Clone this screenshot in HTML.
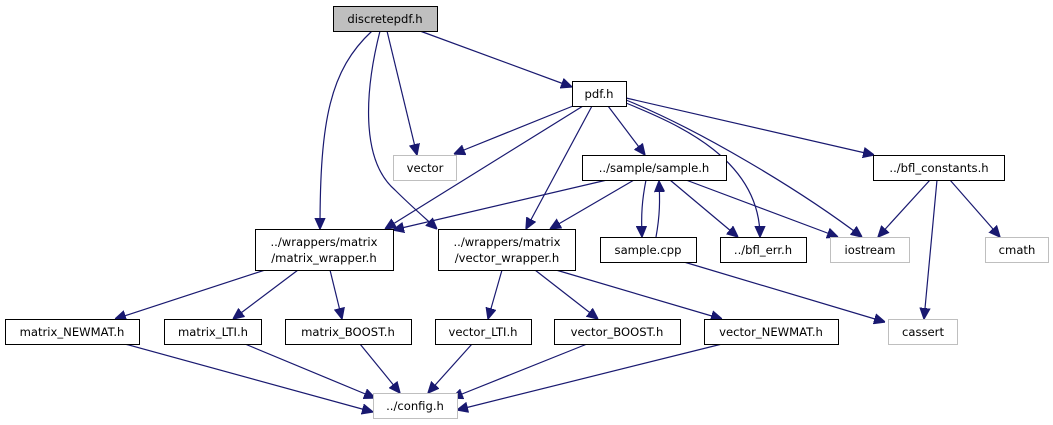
<!DOCTYPE html>
<html><head><meta charset="utf-8"><style>
html,body{margin:0;padding:0;background:#fff;}
svg{display:block}
text{font-family:"DejaVu Sans","Liberation Sans",sans-serif;font-size:11.6px;text-anchor:middle;fill:#000}
.n{fill:#fff;stroke:#000;stroke-width:1}
.g{fill:#fff;stroke:#bfbfbf;stroke-width:1}
path{fill:none;stroke:#191970;stroke-width:1.2}
</style></head><body>
<svg width="1053" height="425" viewBox="0 0 1053 425" xmlns="http://www.w3.org/2000/svg">
<defs><marker id="a" viewBox="0 0 10 10" refX="10" refY="5" markerWidth="11" markerHeight="11" markerUnits="userSpaceOnUse" orient="auto"><path d="M0,0.5 L10,5 L0,9.5 z" style="fill:#191970;stroke:#191970"/></marker></defs>
<g marker-end="url(#a)">
<path d="M372,31 C330,70 320,120 320,229"/>
<path d="M380,31 C365,90 360,160 395,190 C410,205 425,218 437,229"/>
<path d="M387,31 L417,155"/>
<path d="M420,31 L572,87"/>
<path d="M573,106 L454,154"/>
<path d="M583,106 L385,229"/>
<path d="M592,106 L526,229"/>
<path d="M608,106 L645,155"/>
<path d="M626,103 C680,125 760,160 760,237"/>
<path d="M626,100 C700,130 800,190 862,237"/>
<path d="M626,98 L874,155"/>
<path d="M607,180 L393,230"/>
<path d="M634,180 L550,229"/>
<path d="M646,180 C642,200 641,215 642,237"/>
<path d="M656,237 C660,215 660,200 659,181"/>
<path d="M670,180 L738,237"/>
<path d="M686,180 L838,237"/>
<path d="M930,180 L878,237"/>
<path d="M937,180 L924,319"/>
<path d="M950,180 L1000,237"/>
<path d="M684,262 L885,322"/>
<path d="M265,270 L115,319"/>
<path d="M298,270 L233,319"/>
<path d="M330,270 L342,319"/>
<path d="M502,270 L488,319"/>
<path d="M535,270 L598,319"/>
<path d="M556,270 L722,319"/>
<path d="M125,344 L373,412"/>
<path d="M245,344 L375,398"/>
<path d="M360,344 L400,393"/>
<path d="M472,344 L428,393"/>
<path d="M587,344 L452,398"/>
<path d="M722,344 L457,410"/>
</g>
<rect x="333.5" y="6.5" width="104" height="25" fill="#bfbfbf" stroke="#000"/><text x="385" y="23">discretepdf.h</text>
<rect class="n" x="572.5" y="81.5" width="54" height="25"/><text x="599" y="98">pdf.h</text>
<rect class="g" x="393.5" y="155.5" width="63" height="25"/><text x="425" y="172">vector</text>
<rect class="n" x="582.5" y="155.5" width="144" height="25"/><text x="654" y="172">../sample/sample.h</text>
<rect class="n" x="873.5" y="155.5" width="131" height="25"/><text x="939" y="172">../bfl_constants.h</text>
<rect class="n" x="255.5" y="229.5" width="138" height="41"/><text x="324" y="246">../wrappers/matrix</text><text x="324" y="262">/matrix_wrapper.h</text>
<rect class="n" x="438.5" y="229.5" width="137" height="41"/><text x="507" y="246">../wrappers/matrix</text><text x="507" y="262">/vector_wrapper.h</text>
<rect class="n" x="600.5" y="237.5" width="96" height="25"/><text x="648" y="254">sample.cpp</text>
<rect class="n" x="720.5" y="237.5" width="86" height="25"/><text x="763" y="254">../bfl_err.h</text>
<rect class="g" x="830.5" y="237.5" width="79" height="25"/><text x="870" y="254">iostream</text>
<rect class="g" x="985.5" y="237.5" width="63" height="25"/><text x="1017" y="254">cmath</text>
<rect class="n" x="5.5" y="319.5" width="134" height="25"/><text x="72" y="336">matrix_NEWMAT.h</text>
<rect class="n" x="164.5" y="319.5" width="97" height="25"/><text x="213" y="336">matrix_LTI.h</text>
<rect class="n" x="285.5" y="319.5" width="126" height="25"/><text x="348" y="336">matrix_BOOST.h</text>
<rect class="n" x="435.5" y="319.5" width="96" height="25"/><text x="483" y="336">vector_LTI.h</text>
<rect class="n" x="554.5" y="319.5" width="126" height="25"/><text x="617" y="336">vector_BOOST.h</text>
<rect class="n" x="704.5" y="319.5" width="134" height="25"/><text x="771" y="336">vector_NEWMAT.h</text>
<rect class="g" x="888.5" y="319.5" width="69" height="25"/><text x="923" y="336">cassert</text>
<rect class="g" x="373.5" y="393.5" width="84" height="25"/><text x="415" y="410">../config.h</text>
</svg>
</body></html>
